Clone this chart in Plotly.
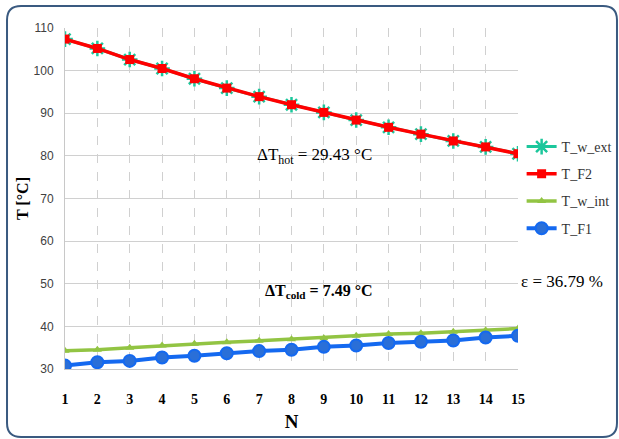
import plotly.graph_objects as go

N = list(range(1, 16))
T_w_ext = [107.4, 105.2, 102.6, 100.5, 98.1, 95.9, 93.9, 92.0, 90.2, 88.4, 86.7, 85.1, 83.5, 82.1, 80.5]
T_F2 = [107.4, 105.2, 102.6, 100.5, 98.1, 95.9, 93.9, 92.0, 90.2, 88.4, 86.7, 85.1, 83.5, 82.1, 80.5]
T_w_int = [34.3, 34.5, 35.0, 35.5, 35.9, 36.3, 36.6, 37.0, 37.2, 37.8, 38.2, 38.4, 38.75, 39.1, 39.5]
T_F1 = [30.8, 31.6, 31.9, 32.7, 33.1, 33.7, 34.2, 34.5, 35.2, 35.5, 36.1, 36.4, 36.7, 37.4, 37.8]
y_ticks = [30, 40, 50, 60, 70, 80, 90, 100, 110]

fig = go.Figure()
fig.add_trace(go.Scatter(x=N, y=T_w_ext, name="T_w_ext", mode="lines+markers", legendgroup="a",
                         line=dict(color="#1CC79C", width=3),
                         marker=dict(symbol="asterisk-open", size=13, line=dict(color="#1CC79C", width=2.5))))
fig.add_trace(go.Scatter(x=N, y=T_F2, name="T_F2", mode="lines+markers", legendgroup="b",
                         line=dict(color="#FF0000", width=3.5),
                         marker=dict(symbol="square", size=9, color="#FF0000")))
fig.add_trace(go.Scatter(x=N, y=T_w_int, name="T_w_int", mode="lines+markers", legendgroup="c",
                         line=dict(color="#92C443", width=3.5),
                         marker=dict(symbol="triangle-up", size=8, color="#92C443")))
fig.add_trace(go.Scatter(x=N, y=T_F1, name="T_F1", mode="lines+markers", legendgroup="d",
                         line=dict(color="#1469F0", width=4),
                         marker=dict(symbol="circle", size=12, color="#2A6FD8", line=dict(color="#1469F0", width=2))))

serif = "Liberation Serif, Times New Roman, serif"

fig.update_layout(
    width=619, height=439,
    margin=dict(l=65, r=101, t=28, b=70, autoexpand=False),
    paper_bgcolor="white", plot_bgcolor="white",
    showlegend=True,
    legend=dict(x=1.008, y=0.698, xanchor="left", yanchor="top",
                font=dict(family=serif, size=14, color="#333333"),
                bgcolor="rgba(0,0,0,0)", tracegroupgap=6, itemwidth=30),
    xaxis=dict(range=[1, 15], tickvals=N, showgrid=True, gridcolor="#D0D0D0", griddash="dash",
               gridwidth=1, showline=True, linecolor="#C8C8C8", zeroline=False,
               tickfont=dict(family=serif, size=14, color="black", weight="bold"),
               ticklabelstandoff=17,
               title=dict(text="<b>N</b>", font=dict(family=serif, size=19, color="black"), standoff=8)),
    yaxis=dict(range=[30, 110], tickvals=y_ticks, showgrid=True, gridcolor="#D0D0D0", gridwidth=1.2,
               showline=True, linecolor="#C8C8C8", zeroline=False,
               tickfont=dict(family="Liberation Sans Narrow, Liberation Sans, Arial", size=12, color="#404040"),
               ticklabelstandoff=8,
               title=dict(text="<b>T [°C]</b>", font=dict(family=serif, size=16, color="black"), standoff=0)),
)

fig.add_annotation(x=8.7, y=80.0, xref="x", yref="y", showarrow=False,
                   text="ΔT<sub>hot</sub> = 29.43 °C",
                   font=dict(family=serif, size=17, color="black"))
fig.add_annotation(x=8.85, y=48.3, xref="x", yref="y", showarrow=False,
                   text="<b>ΔT<sub>cold</sub> = 7.49 °C</b>",
                   font=dict(family=serif, size=16, color="black"))
fig.add_annotation(x=1.097, y=0.258, xref="paper", yref="paper", showarrow=False,
                   xanchor="center", yanchor="middle",
                   text="ε = 36.79 %",
                   font=dict(family=serif, size=17, color="black"))

# rounded border frame
x0, x1 = -0.128, 1.2185
y0, y1 = -0.1994, 1.0645
rx, ry = 0.031, 0.041
path = (f"M {x0+rx},{y1} L {x1-rx},{y1} Q {x1},{y1} {x1},{y1-ry} "
        f"L {x1},{y0+ry} Q {x1},{y0} {x1-rx},{y0} L {x0+rx},{y0} "
        f"Q {x0},{y0} {x0},{y0+ry} L {x0},{y1-ry} Q {x0},{y1} {x0+rx},{y1} Z")
fig.add_shape(type="path", path=path, xref="paper", yref="paper",
              line=dict(color="#3A5A80", width=2), layer="below")

fig.write_html("out.html", config={"displayModeBar": False},
               post_script="document.body.style.margin='0';document.body.style.overflow='hidden';")
